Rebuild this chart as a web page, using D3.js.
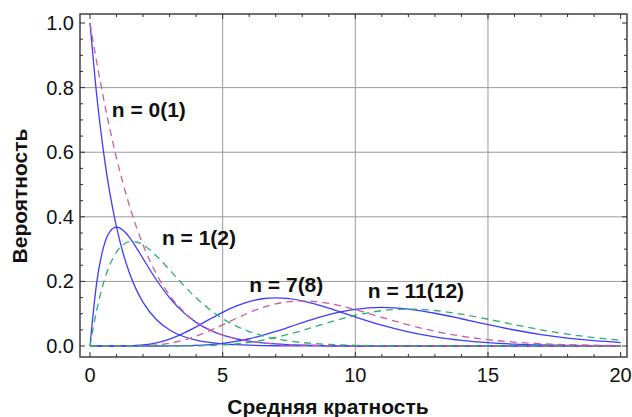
<!DOCTYPE html>
<html><head><meta charset="utf-8">
<script src="https://cdn.jsdelivr.net/npm/d3@7"></script>
<style>body{margin:0;background:#fff}svg{display:block}</style>
</head><body>
<script>
// Mean multiplicity (x) and probabilities
const mean = [0,0.25,0.5,0.75,1,1.25,1.5,1.75,2,2.5,3,3.5,4,4.5,5,5.5,6,6.5,7,7.5,8,8.5,9,9.5,10,11,12,13,14,15,16,17,18,19,20];
const p0  = [1,0.7788,0.6065,0.4724,0.3679,0.2865,0.2231,0.1738,0.1353,0.0821,0.0498,0.0302,0.0183,0.0111,0.0067,0.0041,0.0025,0.0015,0.0009,0.0006,0.0003,0.0002,0.0001,0.0001,0,0,0,0,0,0,0,0,0,0,0];
const p1  = [0,0.1947,0.3033,0.3543,0.3679,0.3581,0.3347,0.3041,0.2707,0.2052,0.1494,0.1057,0.0733,0.0500,0.0337,0.0225,0.0149,0.0098,0.0064,0.0041,0.0027,0.0017,0.0011,0.0007,0.0005,0.0002,0.0001,0,0,0,0,0,0,0,0];
const p7  = [0,0,0,0,0.0001,0.0003,0.0008,0.0017,0.0034,0.0099,0.0216,0.0385,0.0595,0.0824,0.1044,0.1234,0.1377,0.1463,0.1490,0.1465,0.1396,0.1295,0.1171,0.1037,0.0901,0.0646,0.0437,0.0281,0.0174,0.0104,0.0060,0.0034,0.0019,0.0010,0.0005];
const p11 = [0,0,0,0,0,0,0,0,0,0,0.0002,0.0007,0.0019,0.0043,0.0082,0.0143,0.0225,0.0330,0.0452,0.0585,0.0722,0.0854,0.0970,0.1067,0.1137,0.1194,0.1144,0.1015,0.0844,0.0663,0.0496,0.0355,0.0245,0.0164,0.0106];
const d1  = [1,0.8802,0.7708,0.6714,0.5820,0.5019,0.4308,0.3681,0.3130,0.2236,0.1572,0.1090,0.0746,0.0506,0.0339,0.0226,0.0149,0.0098,0.0064,0.0041,0.0027,0.0017,0.0011,0.0007,0.0005,0.0002,0.0001,0,0,0,0,0,0,0,0];
const d2  = [0,0.1100,0.1927,0.2518,0.2910,0.3137,0.3231,0.3221,0.3130,0.2795,0.2358,0.1908,0.1492,0.1139,0.0848,0.0622,0.0448,0.0318,0.0224,0.0156,0.0107,0.0074,0.0050,0.0034,0.0023,0.0010,0.0004,0.0002,0.0001,0,0,0,0,0,0];
const d8  = [0,0,0,0,0,0.0001,0.0002,0.0005,0.0010,0.0034,0.0085,0.0174,0.0303,0.0469,0.0657,0.0852,0.1035,0.1190,0.1305,0.1373,0.1396,0.1376,0.1317,0.1231,0.1126,0.0888,0.0655,0.0457,0.0305,0.0195,0.0120,0.0072,0.0043,0.0024,0.0013];
const d12 = [0,0,0,0,0,0,0,0,0,0,0.0001,0.0002,0.0006,0.0016,0.0034,0.0066,0.0113,0.0179,0.0264,0.0366,0.0481,0.0605,0.0728,0.0845,0.0948,0.1095,0.1144,0.1100,0.0985,0.0829,0.0661,0.0503,0.0368,0.0260,0.0177];
const xTicks = [0,5,10,15,20];
const yTicks = [0,0.2,0.4,0.6,0.8,1.0];
const yTickLabels = ["0.0","0.2","0.4","0.6","0.8","1.0"];
const notes = [
  {text:"n = 0(1)", x:0.82, y:0.71},
  {text:"n = 1(2)", x:2.71, y:0.312},
  {text:"n = 7(8)", x:6.0, y:0.167},
  {text:"n = 11(12)", x:10.47, y:0.150}
];
const xTitle = "Средняя кратность";
const yTitle = "Вероятность";

const W=632,H=417;
const L=80,R=627,T=14,B=357;
const x = d3.scaleLinear().domain([-0.377,20.24]).range([L,R]);
const y = d3.scaleLinear().domain([-0.034,1.028]).range([B,T]);

const svg = d3.select("body").append("svg").attr("width",W).attr("height",H);
svg.append("defs").append("clipPath").attr("id","clip")
  .append("rect").attr("x",L).attr("y",T).attr("width",R-L).attr("height",B-T);

// grid
const g = svg.append("g");
g.selectAll(".gx").data([5,10,15]).join("line")
  .attr("x1",d=>x(d)).attr("x2",d=>x(d)).attr("y1",T).attr("y2",B)
  .attr("stroke","#9a9a9a").attr("stroke-width",1);
g.selectAll(".gy").data([0.2,0.4,0.6,0.8]).join("line")
  .attr("x1",L).attr("x2",R).attr("y1",d=>y(d)).attr("y2",d=>y(d))
  .attr("stroke","#9a9a9a").attr("stroke-width",1);

// curves
const line = d3.line().x(d=>x(d[0])).y(d=>y(d[1])).curve(d3.curveMonotoneX);
const series = [
  {v:p0,c:"#3c3cff",dash:null},
  {v:p1,c:"#3c3cff",dash:null},
  {v:p7,c:"#3c3cff",dash:null},
  {v:p11,c:"#3c3cff",dash:null},
  {v:d1,c:"#cc5c9e",dash:"7,5"},
  {v:d2,c:"#2fae6e",dash:"7,5"},
  {v:d8,c:"#cc5c9e",dash:"7,5"},
  {v:d12,c:"#2fae6e",dash:"7,5"}
];
const cg = svg.append("g").attr("clip-path","url(#clip)");
series.forEach(s=>{
  cg.append("path").datum(mean.map((m,i)=>[m,s.v[i]]))
    .attr("d",line).attr("fill","none").attr("stroke",s.c)
    .attr("stroke-width",1.3).attr("stroke-dasharray",s.dash);
});

// frame
svg.append("rect").attr("x",L).attr("y",T).attr("width",R-L).attr("height",B-T)
  .attr("fill","none").attr("stroke","#404040").attr("stroke-width",1.5);

// ticks
const tk = svg.append("g").attr("stroke","#303030").attr("stroke-width",1);
d3.range(0,21,1).forEach(v=>{
  const len = v%5===0?5:3;
  tk.append("line").attr("x1",x(v)).attr("x2",x(v)).attr("y1",B).attr("y2",B-len);
  tk.append("line").attr("x1",x(v)).attr("x2",x(v)).attr("y1",T).attr("y2",T+len);
});
d3.range(0,21,1).map(i=>i*0.05).forEach((v,i)=>{
  const len = i%4===0?5:3;
  tk.append("line").attr("x1",L).attr("x2",L+len).attr("y1",y(v)).attr("y2",y(v));
  tk.append("line").attr("x1",R).attr("x2",R-len).attr("y1",y(v)).attr("y2",y(v));
});

// tick labels
const font = "Liberation Sans, Arial, sans-serif";
svg.selectAll(".xl").data(xTicks).join("text")
  .attr("x",d=>x(d)).attr("y",382).attr("text-anchor","middle")
  .attr("font-family",font).attr("font-size",20).attr("fill","#111").text(d=>d);
svg.selectAll(".yl").data(yTicks).join("text")
  .attr("x",74).attr("y",d=>y(d)+7).attr("text-anchor","end")
  .attr("font-family",font).attr("font-size",20).attr("fill","#111")
  .text((d,i)=>yTickLabels[i]);

// titles
svg.append("text").attr("x",328).attr("y",414).attr("text-anchor","middle")
  .attr("font-family",font).attr("font-size",21).attr("font-weight","bold").attr("fill","#111").text(xTitle);
svg.append("text").attr("transform","translate(27,196) rotate(-90)").attr("text-anchor","middle")
  .attr("font-family",font).attr("font-size",21).attr("font-weight","bold").attr("fill","#111").text(yTitle);

// annotations
svg.selectAll(".nt").data(notes).join("text")
  .attr("x",d=>x(d.x)).attr("y",d=>y(d.y))
  .attr("font-family",font).attr("font-size",21).attr("font-weight","bold").attr("fill","#111")
  .text(d=>d.text);
</script>
</body></html>
